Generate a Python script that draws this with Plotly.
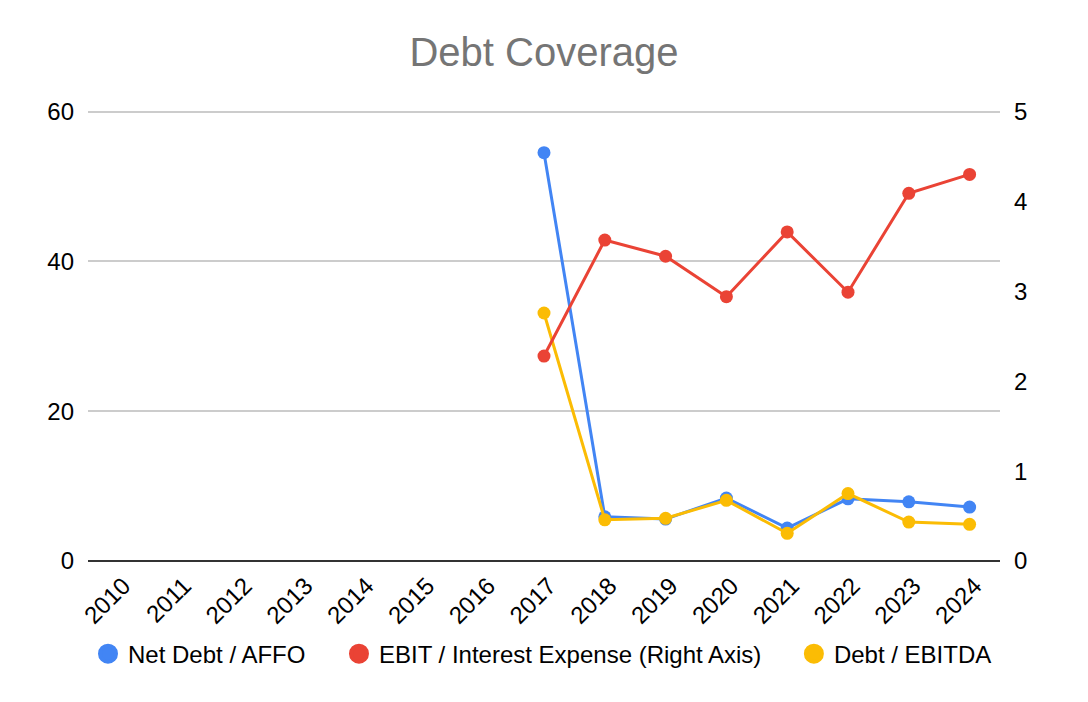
import plotly.graph_objects as go

years = [str(y) for y in range(2010, 2025)]
net_debt_affo = [None] * 7 + [54.5, 5.9, 5.6, 8.4, 4.4, 8.3, 7.9, 7.2]
ebit_interest = [None] * 7 + [2.28, 3.57, 3.39, 2.94, 3.66, 2.99, 4.09, 4.30]
debt_ebitda = [None] * 7 + [33.1, 5.5, 5.7, 8.1, 3.7, 9.0, 5.2, 4.9]

series = [
    ("Net Debt / AFFO", net_debt_affo, "#4285F4", "y"),
    ("EBIT / Interest Expense (Right Axis)", ebit_interest, "#EA4335", "y2"),
    ("Debt / EBITDA", debt_ebitda, "#FBBC04", "y"),
]
legend_x = [0.0, 0.2752, 0.774]  # one legend per entry, spread like the original

fig = go.Figure()
for name, vals, color, axis in series:
    fig.add_trace(go.Scatter(x=years, y=vals, name=name, mode="lines+markers",
                             line=dict(color=color, width=3), marker=dict(size=13),
                             yaxis=axis, showlegend=False))
# legend entries: plain circles like the original
for i, (name, vals, color, axis) in enumerate(series):
    fig.add_trace(go.Scatter(x=[None], y=[None], name=name, mode="markers",
                             marker=dict(size=16, color=color, line=dict(color=color, width=4)),
                             yaxis=axis, legend="legend" if i == 0 else f"legend{i + 1}"))

legend_style = dict(orientation="h", xanchor="left", y=-0.205, yanchor="middle",
                    font=dict(size=24), itemsizing="trace", bgcolor="rgba(0,0,0,0)")

fig.update_layout(
    width=1088, height=702,
    paper_bgcolor="white", plot_bgcolor="white",
    font=dict(family="Liberation Sans, Arial, sans-serif", size=24, color="#000000"),
    title=dict(text="Debt Coverage", x=0.5, xref="paper", xanchor="center", y=0.937,
               yanchor="middle", font=dict(size=40, color="#757575")),
    margin=dict(l=80, r=96, t=99, b=149),
    xaxis=dict(type="category", range=[-0.5, len(years) - 0.5], tickangle=-45,
               showgrid=False, showline=False, ticks="", ticklabelstandoff=5,
               ticklabelshift=5, tickfont=dict(size=24)),
    yaxis=dict(range=[0, 60.6], tickvals=[0, 20, 40, 60], showgrid=True, gridcolor="#cccccc",
               gridwidth=1.5, zeroline=True, zerolinecolor="#333333", zerolinewidth=2,
               ticks="", ticklabelstandoff=13, tickfont=dict(size=24)),
    yaxis2=dict(range=[0, 60.6 / 12], tickvals=[0, 1, 2, 3, 4, 5], overlaying="y", side="right",
                showgrid=False, zeroline=False, ticks="", ticklabelstandoff=13,
                tickfont=dict(size=24)),
    legend=dict(x=legend_x[0], **legend_style),
    legend2=dict(x=legend_x[1], **legend_style),
    legend3=dict(x=legend_x[2], **legend_style),
)

fig.write_html("out.html")
